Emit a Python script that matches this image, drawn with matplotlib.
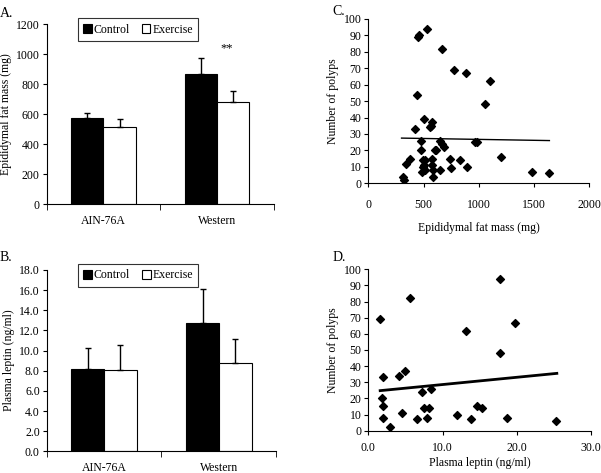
import numpy as np
import matplotlib
matplotlib.use("Agg")
import matplotlib.pyplot as plt

plt.rcParams['font.family'] = ['Liberation Serif', 'DejaVu Serif']
plt.rcParams['font.size'] = 8.5

# bar panels
diets = ["AIN-76A", "Western"]
fat_control = [572, 866]
fat_control_err = [36, 106]
fat_exercise = [512, 680]
fat_exercise_err = [55, 76]

leptin_control = [8.17, 12.77]
leptin_control_err = [2.05, 3.31]
leptin_exercise = [8.07, 8.74]
leptin_exercise_err = [2.45, 2.38]

# scatter panels
fat_mass = [446, 455, 531, 663, 772, 880, 1101, 443, 1052, 500, 419, 560, 572, 576,
            479, 645, 666, 681, 967, 982, 479, 600, 610, 377, 341, 491, 515, 576,
            741, 832, 1199, 495, 503, 576, 892, 748, 485, 509, 590, 651, 584, 310,
            325, 1486, 1634]
polyps_fat = [89, 90, 94, 82, 69, 67, 62, 54, 48, 39, 33, 34, 35, 37,
              26, 26, 24, 22, 25, 25, 20, 20, 20, 15, 12, 14, 14, 15,
              15, 14, 16, 10, 11, 11, 10, 9, 7, 8, 8, 8, 4, 4,
              2, 7, 6]
fat_trend_x = [301, 1639]
fat_trend_y = [27.5, 26.0]

leptin = [2.0, 4.1, 4.9, 1.9, 2.0, 2.0, 2.9, 4.5, 6.6, 7.2, 8.5, 7.5, 8.2, 7.9,
          11.9, 13.9, 14.7, 15.3, 1.6, 5.6, 17.8, 19.8, 13.2, 17.7, 18.7, 25.3]
polyps_leptin = [33, 34, 37, 20, 15, 8, 2, 11, 7, 24, 26, 14, 14, 8,
                 10, 7, 15, 14, 69, 82, 94, 67, 62, 48, 8, 6]
leptin_trend_x = [1.6, 25.4]
leptin_trend_y = [24.8, 35.5]


def bar_panel(ax, ctrl, ctrl_err, exer, exer_err, ymax, step, fmt):
    x = np.arange(len(diets))
    w = 0.285
    ax.bar(x - w / 2, ctrl, w, color='black', edgecolor='black', lw=0.8, label='Control')
    ax.bar(x + w / 2, exer, w, color='white', edgecolor='black', lw=0.8, label='Exercise')
    ax.errorbar(x - w / 2, ctrl, yerr=[np.zeros(len(x)), ctrl_err], fmt='none',
                ecolor='black', elinewidth=1, capsize=2, capthick=1)
    ax.errorbar(x + w / 2, exer, yerr=[np.zeros(len(x)), exer_err], fmt='none',
                ecolor='black', elinewidth=1, capsize=2, capthick=1)
    ax.set_xlim(-0.5, 1.5)
    ax.set_ylim(0, ymax)
    ax.set_yticks(np.arange(0, ymax + step / 2, step))
    ax.yaxis.set_major_formatter(plt.FormatStrFormatter(fmt))
    ax.set_xticks(x)
    ax.set_xticklabels(diets)
    ax.set_xticks([-0.5, 0.5, 1.5], minor=True)
    ax.tick_params(axis='x', which='major', length=0, pad=8)
    ax.tick_params(axis='x', which='minor', length=4, direction='out')
    ax.tick_params(axis='y', length=3, direction='out', pad=2)
    for s in ['top', 'right']:
        ax.spines[s].set_visible(False)
    leg = ax.legend(loc='upper left', bbox_to_anchor=(0.11, 1.065), ncol=2,
                    frameon=True, fancybox=False, edgecolor='black',
                    handlelength=0.75, handleheight=0.75, handletextpad=0.15,
                    columnspacing=1.0, borderpad=0.45, fontsize=8.5)
    leg.get_frame().set_linewidth(0.8)


def scatter_panel(ax, x, y, tx, ty, lw, xmax, xstep, fmt):
    ax.scatter(x, y, marker='D', s=16, color='black', zorder=3)
    ax.plot(tx, ty, color='black', lw=lw, zorder=2)
    ax.set_xlim(0, xmax)
    ax.set_ylim(0, 100)
    ax.set_yticks(np.arange(0, 101, 10))
    ax.set_xticks(np.arange(0, xmax + xstep / 2, xstep))
    ax.xaxis.set_major_formatter(plt.FormatStrFormatter(fmt))
    ax.tick_params(length=3, direction='out')
    ax.tick_params(axis='y', pad=2)
    for s in ['top', 'right']:
        ax.spines[s].set_visible(False)
    ax.set_ylabel('Number of polyps', labelpad=3)


fig = plt.figure(figsize=(6.01, 4.73), dpi=100)

axA = fig.add_axes([0.0777, 0.5687, 0.378, 0.3805])
bar_panel(axA, fat_control, fat_control_err, fat_exercise, fat_exercise_err, 1200, 200, '%d')
axA.set_ylabel('Epididymal fat mass (mg)', labelpad=3)
axA.text(1.08, 1040, '**', ha='center', va='center', fontsize=9)

axB = fig.add_axes([0.0777, 0.0459, 0.382, 0.3833])
bar_panel(axB, leptin_control, leptin_control_err, leptin_exercise, leptin_exercise_err, 18, 2, '%.1f')
axB.set_ylabel('Plasma leptin (ng/ml)', labelpad=3)

axC = fig.add_axes([0.6128, 0.6125, 0.3677, 0.3474])
scatter_panel(axC, fat_mass, polyps_fat, fat_trend_x, fat_trend_y, 1.0, 2000, 500, '%d')
axC.tick_params(axis='x', pad=8)
axC.set_xlabel('Epididymal fat mass (mg)', labelpad=8)

axD = fig.add_axes([0.6128, 0.0895, 0.3705, 0.3412])
scatter_panel(axD, leptin, polyps_leptin, leptin_trend_x, leptin_trend_y, 2.0, 30, 10, '%.1f')
axD.tick_params(axis='x', pad=5)
axD.set_xlabel('Plasma leptin (ng/ml)', labelpad=2)

fig.text(0.0, 0.985, 'A.', ha='left', va='top', fontsize=10)
fig.text(0.0, 0.47, 'B.', ha='left', va='top', fontsize=10)
fig.text(0.553, 0.99, 'C.', ha='left', va='top', fontsize=10)
fig.text(0.553, 0.47, 'D.', ha='left', va='top', fontsize=10)

fig.savefig('out.png', dpi=100)
